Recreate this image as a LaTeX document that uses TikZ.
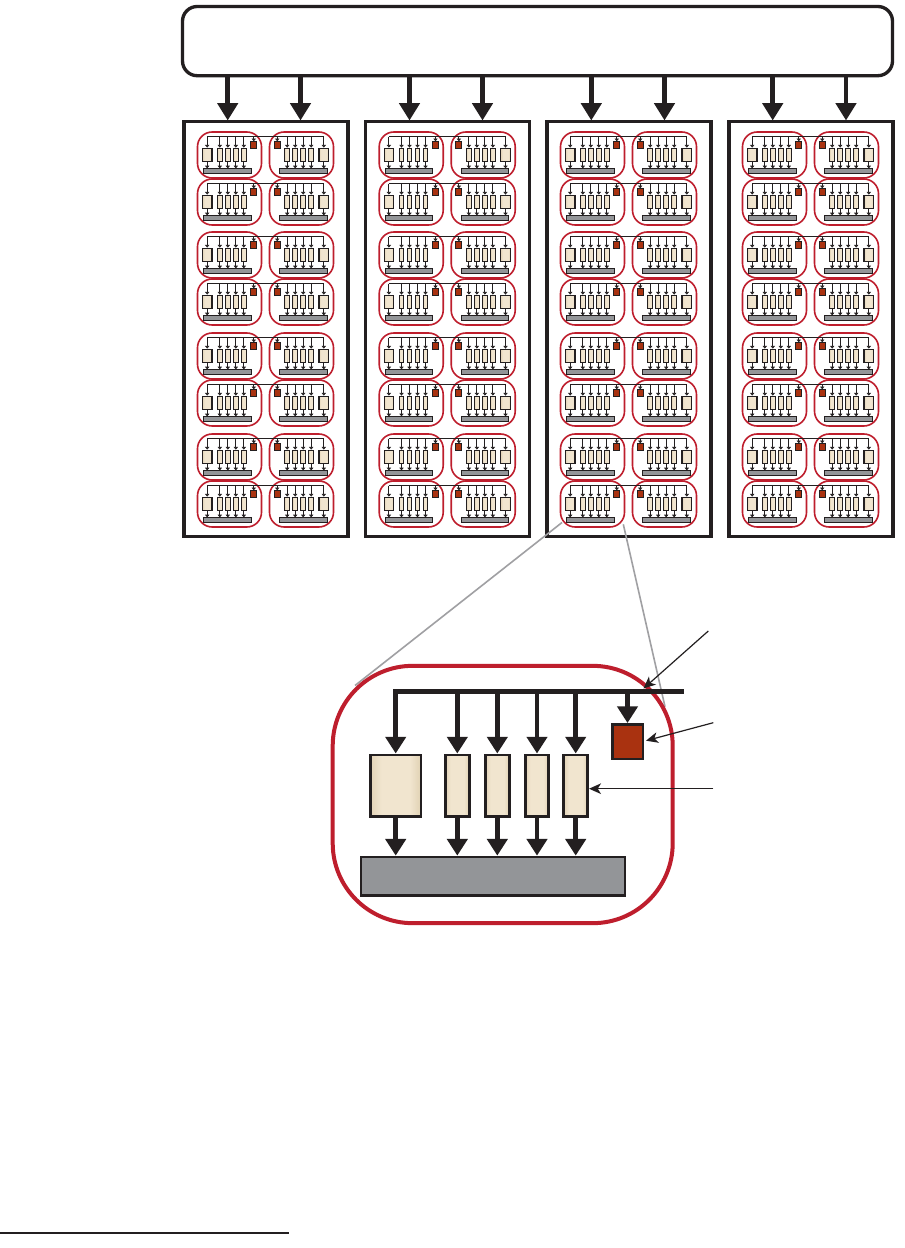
\documentclass[tikz,border=0pt]{standalone}
\usetikzlibrary{arrows.meta}
\definecolor{ink}{HTML}{231F20}
\definecolor{crim}{HTML}{BE1E2D}
\definecolor{rust}{HTML}{A93210}
\definecolor{barg}{HTML}{939598}
\definecolor{linkg}{HTML}{A0A0A3}
\pgfdeclarehorizontalshading{beigeband}{100bp}{
  rgb(0bp)=(0.89,0.83,0.72);
  rgb(25bp)=(0.89,0.83,0.72);
  rgb(36bp)=(0.945,0.898,0.812);
  rgb(64bp)=(0.945,0.898,0.812);
  rgb(75bp)=(0.88,0.82,0.70);
  rgb(100bp)=(0.88,0.82,0.70)}
\tikzset{
  px/.style={x=0.75pt,y=-0.75pt},
  frame/.style={draw=ink,line width=2.5pt,fill=white,inner sep=0pt,outer sep=0pt,anchor=north west},
  mainarrow/.style={draw=ink,line width=3.7pt,-{Triangle[length=13pt,width=15pt]}},
  zoomlink/.style={draw=linkg,line width=1.2pt},
  callout/.style={draw=ink,line width=0.9pt,-{Stealth[length=9pt,width=8pt,inset=2.5pt]}},
  loop/.style={draw=crim,line width=1.2pt,rounded corners=11pt,minimum width=48pt,minimum height=34.5pt,inner sep=0pt},
  sbus/.style={draw=ink,line width=0.7pt},
  sdrop/.style={draw=ink,line width=0.65pt,-{Triangle[length=2pt,width=3.2pt]}},
  sbig/.style={draw=ink,line width=0.8pt,shading=beigeband,minimum width=7.2pt,minimum height=10.3pt,inner sep=0pt},
  snar/.style={sbig,minimum width=3.6pt},
  sred/.style={draw=ink,line width=0.8pt,fill=rust,minimum width=4.5pt,minimum height=4.8pt,inner sep=0pt},
  sbar/.style={draw=ink,line width=0.8pt,fill=barg,minimum width=35.5pt,minimum height=3.6pt,inner sep=0pt},
  lbig/.style={draw=ink,line width=2pt,shading=beigeband,inner sep=0pt,minimum height=46pt},
  lred/.style={draw=ink,line width=2pt,fill=rust,inner sep=0pt,minimum width=23pt,minimum height=26pt},
  lbar/.style={draw=ink,line width=2pt,fill=barg,inner sep=0pt,minimum width=198pt,minimum height=29pt},
  ldrop/.style={draw=ink,line width=3.4pt,-{Triangle[length=12.5pt,width=15pt]}},
  lbus/.style={draw=ink,line width=3.6pt},
}
\newcommand{\onecell}[1]{%
  \node[loop] (#1-loop) at (32,23) {};
  \node[sbig] (#1-a) at (9.7,23) {};
  \node[snar] (#1-b) at (22.3,23) {};
  \node[snar] (#1-c) at (30.3,23) {};
  \node[snar] (#1-d) at (38.3,23) {};
  \node[snar] (#1-e) at (46.3,23) {};
  \node[sred] (#1-r) at (56.3,13) {};
  \node[sbar] (#1-g) at (30,39.3) {};
  \foreach \k/\xx in {a/9.7,b/22.3,c/30.3,d/38.3,e/46.3,r/56.3}{
    \coordinate (#1-t\k) at (\xx,4.7);
    \draw[sdrop] (#1-t\k) -- (#1-\k.north);
  }
  \foreach \k in {a,b,c,d,e}{
    \draw[sdrop] (#1-\k.south) -- (#1-\k.south |- #1-g.north);
  }
}
\begin{document}
\begin{tikzpicture}[px]
\useasboundingbox (0,0) rectangle (904,1248);
\fill[white] (0,0) rectangle (904,1248);
% top box
\node[frame,rounded corners=11pt,minimum width=532.5pt,minimum height=51.9pt] (top) at (182.5,6.5) {};
% panels and arrows
\foreach \p/\pxx/\aa/\ab in {1/184/227.7/300.5,2/365.7/409.5/482.5,3/547/591.3/664.5,4/729/772.7/846}{
  \node[frame,minimum width=123pt,minimum height=311pt] (panel\p) at (\pxx,121.7) {};
  \coordinate (s\p a) at (\aa,76);
  \coordinate (s\p b) at (\ab,76);
  \coordinate (e\p a) at (\aa,120.5);
  \coordinate (e\p b) at (\ab,120.5);
  \draw[mainarrow] (s\p a) -- (e\p a);
  \draw[mainarrow] (s\p b) -- (e\p b);
  \foreach \r/\ry in {1/132,2/179,3/232,4/279,5/333,6/380,7/434,8/481}{
    \begin{scope}[shift={(\pxx+13.5,\ry)}]
      \onecell{p\p r\r L}
    \end{scope}
    \begin{scope}[shift={(\pxx+149.5,\ry)},xscale=-1]
      \onecell{p\p r\r R}
    \end{scope}
    \draw[sbus] (p\p r\r L-ta) -- (p\p r\r R-ta);
  }
}
% zoom links
\coordinate (zs1) at (562,522.5);
\coordinate (zl1) at (355,685.5);
\coordinate (zs2) at (623.3,524.3);
\coordinate (zl2) at (665,706.7);
\draw[zoomlink] (zs1) -- (zl1);
\draw[zoomlink] (zs2) -- (zl2);
% enlarged block
\node[draw=crim,line width=3pt,rounded corners=60pt,minimum width=255pt,minimum height=193pt,inner sep=0pt] (bigloop) at (502.7,794.5) {};
\node[lbig,minimum width=38pt] (A) at (395.7,785.5) {};
\node[lbig,minimum width=18pt] (B) at (457.3,785.5) {};
\node[lbig,minimum width=18pt] (C) at (497.3,785.5) {};
\node[lbig,minimum width=17.5pt] (D) at (537,785.5) {};
\node[lbig,minimum width=18pt] (E) at (575.7,785.5) {};
\node[lred] (R) at (627.5,741.7) {};
\node[lbar] (G) at (493,876.3) {};
\coordinate (busL) at (393,691.3);
\coordinate (busR) at (684,691.3);
\draw[lbus] (busL) -- (busR);
\foreach \n in {A,B,C,D,E,R}{
  \coordinate (d\n) at (\n.north |- busL);
  \draw[ldrop] (d\n) -- (\n.north);
}
\foreach \n in {A,B,C,D,E}{
  \draw[ldrop] (\n.south) -- (\n.south |- G.north);
}
% callouts
\coordinate (c1) at (708.3,631);
\coordinate (c1t) at (643.5,688.5);
\coordinate (c2) at (713.3,722.7);
\coordinate (c2t) at (646,740.7);
\coordinate (c3) at (713.3,788.7);
\draw[callout] (c1) -- (c1t);
\draw[callout] (c2) -- (c2t);
\draw[callout] (c3) -- (E.east |- c3);
% footnote rule
\coordinate (f1) at (0,1233);
\coordinate (f2) at (289,1233);
\draw[ink,line width=0.8pt] (f1) -- (f2);
\end{tikzpicture}
\end{document}
